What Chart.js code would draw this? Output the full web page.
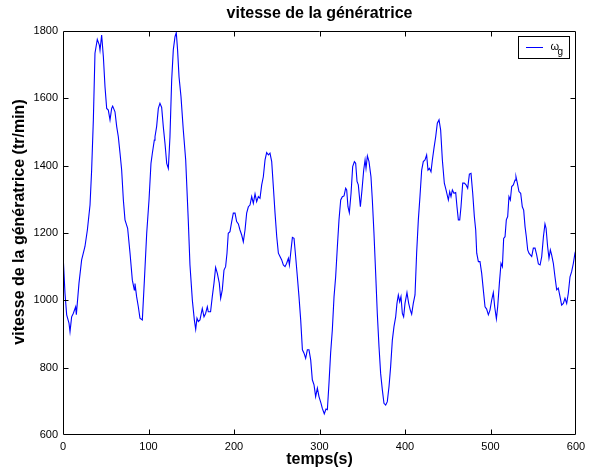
<!DOCTYPE html>
<html>
<head>
<meta charset="utf-8">
<script src="https://cdn.jsdelivr.net/npm/chart.js@4"></script>
<style>
html,body{margin:0;padding:0;background:#fff;}
#wrap{width:593px;height:475px;}
</style>
</head>
<body>
<div id="wrap"><canvas id="c" width="593" height="475"></canvas></div>
<script>
const chartTitle = "vitesse de la génératrice";
const xLabel = "temps(s)";
const yLabel = "vitesse de la génératrice (tr/min)";
const legendSymbol = "ω";
const legendSub = "g";
const xTicks = [0, 100, 200, 300, 400, 500, 600];
const yTicks = [600, 800, 1000, 1200, 1400, 1600, 1800];

const temps = [0,2.3,4.3,7,8.2,10.1,12,14.8,15.6,18.7,21.8,25.7,28.5,31.6,33.5,35.5,37.4,40.1,42.5,43.3,45.2,47.2,49.1,51.1,53,55,56.9,58.1,60.8,62.8,64.7,66.7,68.6,70.6,72.5,75.6,78.4,81.1,83.4,84.2,86.1,88.1,90,92.8,95.2,97.9,100.6,102.9,104.5,106.8,107.6,109.5,111.5,113.4,115.4,117.3,119.3,121.3,123.2,125.1,127.1,129,131,132.5,134,135.7,138,140.7,143.5,146.5,148.5,151.3,153.6,155.2,156.7,158.3,160.2,162.9,164.9,166.8,168.8,169.9,172.6,174.6,176.6,178.5,180.5,182.8,184.4,186.3,188.3,190.2,191.8,193.3,195.3,197.3,199.2,201.2,203.1,205.1,207,209,210.9,212.9,214.8,216.8,218.7,220.7,222.6,224.6,226.5,228.5,230.4,232.4,234.3,236.3,238.2,240.2,242.1,244.1,246,248,250,251.9,253.8,255.8,257.7,259.7,261.6,263.6,264.8,266.7,268.3,270.2,272.1,274.1,276,278,280,281.9,283.8,285.8,287.7,289.7,291.6,293.6,295.5,297.5,299.4,301.8,303.3,305.6,307.6,309.2,311.1,313,315,317,318.9,320.9,322.8,324.8,326.7,328.7,330.6,331.8,333.3,334.9,336.9,338.8,340.8,342.3,343.9,345.4,347.8,349.7,351.7,353.3,354.4,356,357.9,360.2,361.8,363.7,365.7,367.6,369.6,371.5,373.5,375.4,377.4,379.3,381.3,383.2,385.2,387.1,389.1,390.6,392.2,393.8,395.3,396.9,398.4,400,402.3,404.3,406.2,407.8,409.7,411.7,413.6,415.6,417.5,419.5,421.4,423.4,425.3,426.9,428.5,430.4,432,433.9,435.9,437.8,439.8,441.7,443.7,446,448,450.7,452.3,453.8,455.4,457.3,459.3,460.8,462.4,464,465.5,467.5,469.4,471.4,473.3,475.3,477.2,479.2,481.1,482.7,483.9,485.8,487.7,489.7,491.6,493.6,495.5,497.5,499.4,501.4,503.3,504.9,506.9,508.4,510.4,512.3,513.9,515.4,517,518.5,520.1,521.6,523.2,524.8,526.7,528.7,529.8,531.4,533.3,535.3,537.2,538.8,540.4,541.9,543.5,545,546.6,548.2,550.1,552.1,554,556,558,559.9,561.9,563.7,565,566.8,568.4,570,571.5,573.5,575.4,577.4,579.3,581.3,583.2,585.2,587.1,589.1,591,593,594.9,596.9,598.8,600];

const vitesse = [1140,1022,957,932,907,951,961,981,957,1051,1120,1160,1209,1283,1387,1536,1734,1775,1758,1743,1788,1724,1635,1570,1565,1536,1570,1577,1560,1516,1486,1437,1387,1298,1239,1214,1140,1060,1031,1050,1011,981,947,942,1060,1199,1298,1407,1437,1476,1486,1516,1570,1585,1573,1516,1466,1407,1392,1486,1654,1744,1783,1795,1744,1664,1605,1506,1417,1239,1105,1000,942,914,947,937,942,976,951,961,981,966,966,1011,1051,1098,1080,1051,1006,1031,1090,1100,1140,1199,1204,1234,1259,1259,1234,1227,1209,1194,1174,1209,1259,1278,1283,1308,1288,1316,1293,1308,1303,1343,1367,1417,1439,1432,1437,1412,1338,1259,1189,1140,1130,1120,1105,1100,1110,1125,1105,1150,1187,1184,1130,1070,1011,942,853,843,828,853,853,823,764,749,714,739,714,694,679,663,677,675,754,843,912,1011,1070,1160,1239,1298,1308,1310,1333,1328,1278,1260,1318,1397,1412,1407,1353,1343,1278,1328,1387,1417,1392,1429,1412,1367,1298,1199,1080,961,862,783,734,694,689,699,744,803,882,922,951,991,1016,996,1011,961,951,991,1023,991,971,959,991,1016,1140,1239,1308,1387,1412,1417,1432,1387,1392,1382,1417,1452,1486,1526,1536,1506,1417,1348,1328,1298,1323,1308,1328,1318,1320,1278,1239,1239,1278,1348,1348,1343,1333,1375,1377,1318,1249,1209,1140,1115,1115,1080,1031,981,974,957,971,1001,1023,981,945,981,1051,1110,1100,1184,1189,1239,1249,1308,1298,1338,1343,1357,1367,1348,1323,1318,1278,1268,1219,1189,1150,1140,1135,1130,1155,1155,1135,1108,1105,1130,1189,1227,1214,1160,1125,1150,1135,1110,1070,1031,1036,1011,986,991,1006,991,1021,1070,1085,1110,1140,1150];

const FONT = '"Liberation Sans", Arial, Helvetica, sans-serif';
const LINE_COLOR = 'rgb(0,0,255)';

const points = temps.map((t, i) => ({x: t, y: vitesse[i]}));

const framePlugin = {
  id: 'frame',
  afterDraw(chart) {
    const ctx = chart.ctx;
    const a = chart.chartArea;
    const xs = chart.scales.x, ys = chart.scales.y;
    ctx.save();
    ctx.strokeStyle = '#000';
    ctx.lineWidth = 1;
    const L = Math.round(a.left) + 0.5, R = Math.round(a.right) - 0.5;
    const T = Math.round(a.top) + 0.5, B = Math.round(a.bottom) - 0.5;
    ctx.beginPath();
    ctx.rect(L, T, R - L, B - T);
    ctx.stroke();
    const tl = 5;
    ctx.beginPath();
    xTicks.forEach(v => {
      const px = Math.round(xs.getPixelForValue(v)) + 0.5;
      if (v === xs.min || v === xs.max) return;
      ctx.moveTo(px, B); ctx.lineTo(px, B - tl);
      ctx.moveTo(px, T); ctx.lineTo(px, T + tl);
    });
    yTicks.forEach(v => {
      const py = Math.round(ys.getPixelForValue(v)) + 0.5;
      if (v === ys.min || v === ys.max) return;
      ctx.moveTo(L, py); ctx.lineTo(L + tl, py);
      ctx.moveTo(R, py); ctx.lineTo(R - tl, py);
    });
    ctx.stroke();

    // y axis label
    ctx.fillStyle = '#000';
    ctx.font = 'bold 16px ' + FONT;
    ctx.textAlign = 'center';
    ctx.textBaseline = 'middle';
    ctx.translate(20, 222);
    ctx.rotate(-Math.PI / 2);
    ctx.fillText(yLabel, 0, 0);
    ctx.restore();

    // legend
    ctx.save();
    const bx = 518.5, by = 36.5, bw = 51, bh = 22;
    ctx.fillStyle = '#fff';
    ctx.fillRect(bx, by, bw, bh);
    ctx.strokeStyle = '#000';
    ctx.lineWidth = 1;
    ctx.strokeRect(bx, by, bw, bh);
    ctx.strokeStyle = LINE_COLOR;
    ctx.beginPath();
    ctx.moveTo(526, 47.5); ctx.lineTo(543, 47.5);
    ctx.stroke();
    ctx.fillStyle = '#000';
    ctx.textAlign = 'left';
    ctx.textBaseline = 'alphabetic';
    ctx.font = '11px ' + FONT;
    ctx.fillText(legendSymbol, 550.5, 50);
    ctx.font = '10px ' + FONT;
    ctx.fillText(legendSub, 557.5, 55);
    ctx.restore();
  }
};

new Chart(document.getElementById('c'), {
  type: 'line',
  data: {
    datasets: [{
      label: legendSymbol + legendSub,
      data: points,
      borderColor: LINE_COLOR,
      backgroundColor: LINE_COLOR,
      borderWidth: 1.1,
      pointRadius: 0,
      tension: 0,
      fill: false
    }]
  },
  options: {
    responsive: false,
    animation: false,
    events: [],
    layout: {padding: {left: 0, right: 17, top: 0, bottom: 0}},
    plugins: {
      legend: {display: false},
      tooltip: {enabled: false},
      title: {
        display: true,
        text: chartTitle,
        fullSize: false,
        color: '#000',
        font: {family: FONT, size: 16, weight: 'bold', lineHeight: 1.2},
        padding: {top: 4.4, bottom: 7.4}
      }
    },
    scales: {
      x: {
        type: 'linear',
        min: 0, max: 600,
        afterBuildTicks: s => { s.ticks = xTicks.map(v => ({value: v})); },
        afterFit: s => { s.height = 40; },
        grid: {display: false, drawTicks: false},
        border: {display: false},
        ticks: {color: '#000', font: {family: FONT, size: 11}, padding: 5, maxRotation: 0, autoSkip: false, callback: v => String(v)},
        title: {display: true, text: xLabel, color: '#000', font: {family: FONT, size: 16, weight: 'bold', lineHeight: 1.2}, padding: {top: 0, bottom: 5.4}}
      },
      y: {
        type: 'linear',
        min: 600, max: 1800,
        afterBuildTicks: s => { s.ticks = yTicks.map(v => ({value: v})); },
        afterFit: s => { s.width = 63; },
        grid: {display: false, drawTicks: false},
        border: {display: false},
        ticks: {color: '#000', font: {family: FONT, size: 11}, padding: 5, autoSkip: false, callback: v => String(v)}
      }
    }
  },
  plugins: [framePlugin]
});
</script>
</body>
</html>
